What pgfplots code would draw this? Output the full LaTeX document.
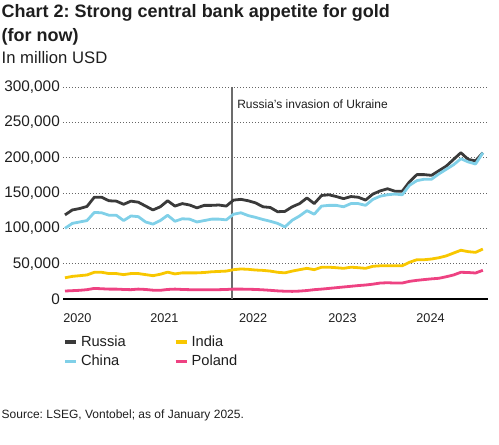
\documentclass[border=0pt]{standalone}
\usepackage{fontspec}
\setmainfont{Liberation Sans}
\usepackage{pgfplots}
\usepackage{pgfplotstable}
\pgfplotsset{compat=1.18}
\frenchspacing

\definecolor{russia}{HTML}{3A3A3A}
\definecolor{china}{HTML}{80D0E8}
\definecolor{india}{HTML}{F8C700}
\definecolor{poland}{HTML}{EE4282}
\definecolor{txt}{HTML}{1E1E1E}
\definecolor{gridc}{HTML}{666666}

% monthly holdings, million USD (m = month index from Jan 2020)
\pgfplotstableread{
m russia china india poland
0 119000 100000 30000 11300
1 126000 107000 32000 11800
2 128000 109000 33000 12300
3 131000 111000 34000 13200
4 144000 122500 37800 15000
5 144000 122000 37800 14500
6 139000 118500 36000 14000
7 138500 118500 36000 14000
8 134000 111000 34500 13500
9 138500 117500 36000 13200
10 137000 116500 36000 14000
11 131500 109000 34500 13500
12 126000 106000 33000 12500
13 130500 111000 35000 12300
14 139000 118500 38000 13500
15 131500 110000 35500 14000
16 135000 113500 37000 13500
17 133000 113000 37000 13200
18 129000 109000 37000 13200
19 132500 111000 37500 13200
20 132500 113000 38500 13200
21 133000 113000 39000 13200
22 131500 112000 39500 13500
23 140000 120000 41500 14000
24 141000 122000 42500 14000
25 139000 118000 42000 13800
26 136000 115500 41000 13500
27 130500 112500 40500 13000
28 129500 110000 39500 12300
29 123500 107000 37800 11500
30 124000 102000 37000 11000
31 130500 111500 39500 10800
32 135000 117500 41500 11200
33 143000 125000 43400 12000
34 135000 120000 41500 13200
35 146500 131500 45000 14000
36 147500 132500 45000 15000
37 145000 132500 44300 16000
38 142000 130500 43400 17000
39 145000 135000 45000 18000
40 144000 135000 44300 19000
41 140000 132500 43400 19800
42 148500 141000 46300 21000
43 153000 145500 47000 22600
44 156000 147500 47000 23000
45 152500 148500 47000 22600
46 152500 147500 47000 22600
47 166000 161000 52000 25000
48 176000 167500 55600 26400
49 176000 169500 55600 27500
50 175000 169500 56600 28500
51 181500 177000 58400 29300
52 188000 183500 61000 31500
53 197500 190000 65000 34000
54 207000 198500 69000 37800
55 197500 194000 67000 37500
56 195500 191000 66000 36800
57 207000 207000 70700 40600
}\gold

\begin{document}
\begin{tikzpicture}
\useasboundingbox (0,0) rectangle (374.25pt,-333.75pt);

\node[anchor=base west, inner sep=0pt, text=txt] at (1.1pt,-13.1pt)
  {\fontsize{13.5}{16}\selectfont\bfseries Chart 2: Strong central bank appetite for gold};
\node[anchor=base west, inner sep=0pt, text=txt] at (1.1pt,-31pt)
  {\fontsize{13.5}{16}\selectfont\bfseries (for now)};
\node[anchor=base west, inner sep=0pt, text=txt] at (1.1pt,-48pt)
  {\fontsize{12.5}{15}\selectfont In million USD};

\begin{axis}[
    at={(47.25pt,-224.25pt)}, anchor=south west,
    scale only axis,
    width=318.75pt, height=159pt,
    xmin=-0.27, xmax=57.7,
    ymin=0, ymax=300000,
    axis x line*=bottom,
    axis y line*=left,
    x axis line style={black, line width=0.9pt},
    y axis line style={draw=none},
    major tick length=0pt,
    xtick={-0.27,11.6,23.7,35.9,47.9},
    xticklabels={2020,2021,2022,2023,2024},
    xticklabel style={anchor=north west, inner sep=0pt, yshift=-11pt,
      font=\fontsize{9.5}{11}\selectfont, text=txt},
    ytick={0,50000,...,300000},
    scaled y ticks=false,
    yticklabel style={anchor=east, inner sep=0pt, xshift=-2.2pt,
      font=\fontsize{11.5}{13}\selectfont, text=txt,
      /pgf/number format/.cd, fixed, 1000 sep={,}, assume math mode=true},
    ymajorgrids,
    grid style={gridc, line width=0.6pt, dash pattern=on 0.6pt off 1.65pt},
    legend columns=2,
    transpose legend,
    legend cell align=left,
    legend image code/.code={\draw[#1, line width=2.8pt] (0pt,0pt) -- (8.5pt,0pt);},
    legend style={draw=none, fill=none, at={(axis description cs:0,-0.16)},
      anchor=north west, inner sep=0pt,
      font=\fontsize{11}{13}\selectfont, text=txt, row sep=1pt,
      /tikz/every even column/.append style={column sep=34pt}},
    every axis plot/.append style={line width=2.1pt, line join=round},
]
\draw[gray!85!black, line width=0.9pt] (axis cs:22.78,0) -- (axis cs:22.78,300000);
\addplot[russia] table[x=m, y=russia] {\gold};
\addlegendentry{Russia}
\addplot[china] table[x=m, y=china] {\gold};
\addlegendentry{China}
\addplot[india] table[x=m, y=india] {\gold};
\addlegendentry{India}
\addplot[poland] table[x=m, y=poland] {\gold};
\addlegendentry{Poland}
\end{axis}

\node[anchor=base west, inner sep=0pt, text=txt] at (177.75pt,-81.4pt)
  {\fontsize{9}{11}\selectfont Russia’s invasion of Ukraine};
\node[anchor=base west, inner sep=0pt, text=txt] at (1.1pt,-313.5pt)
  {\fontsize{9}{11}\selectfont Source: LSEG, Vontobel; as of January 2025.};
\end{tikzpicture}
\end{document}
